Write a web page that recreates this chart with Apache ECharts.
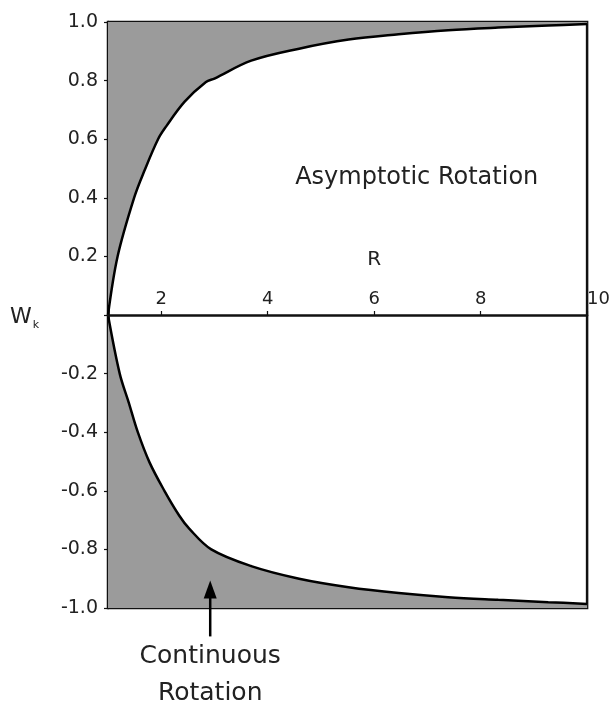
<!DOCTYPE html>
<html>
<head>
<meta charset="utf-8">
<script src="https://cdn.jsdelivr.net/npm/echarts@6/dist/echarts.min.js"></script>
<style>
  html, body { margin: 0; padding: 0; background: #fff; }
  #chart { width: 613px; height: 703px; }
</style>
</head>
<body>
<div id="chart"></div>
<script>
// Rotation parameter W_k against R: upper and lower limiting curves
const rUpper = [1, 1.18, 1.49, 1.69, 1.94, 2.09, 2.44, 2.84, 3.0, 3.69, 4.59, 5.52, 6.46, 7.39, 8.33, 9.27, 10];
const wUpper = [0, 0.2, 0.4, 0.495, 0.6, 0.643, 0.728, 0.795, 0.807, 0.868, 0.909, 0.94, 0.958, 0.972, 0.981, 0.988, 0.993];

const rLower = [1, 1.22, 1.39, 1.56, 1.78, 2.06, 2.34, 2.53, 2.94, 3.69, 4.59, 5.52, 6.46, 7.39, 8.33, 9.27, 10];
const wLower = [0, -0.2, -0.299, -0.4, -0.503, -0.6, -0.685, -0.73, -0.8, -0.857, -0.9, -0.929, -0.949, -0.963, -0.972, -0.98, -0.986];

const xTicks = [2, 4, 6, 8, 10];

const FONT = 'DejaVu Sans';
const GREY = '#9b9b9b';

const chart = echarts.init(document.getElementById('chart'), null, { renderer: 'canvas' });

const zip = (xs, ys) => xs.map((x, i) => [x, ys[i]]);

chart.setOption({
  animation: false,
  backgroundColor: '#fff',
  grid: {
    left: 108, right: 24, top: 22, bottom: 95,
    show: true, borderColor: '#111', borderWidth: 2.5, backgroundColor: 'transparent'
  },
  xAxis: {
    type: 'value', min: 1, max: 10,
    axisLine: { onZero: false, lineStyle: { color: '#111', width: 2.5 } },
    axisTick: { show: true, inside: true, length: 4, customValues: xTicks, lineStyle: { color: '#111', width: 1.2 } },
    axisLabel: {
      inside: true, margin: 7, customValues: xTicks, alignMaxLabel: 'left',
      fontFamily: FONT, fontSize: 18, color: '#222'
    },
    splitLine: { show: false },
    z: 5
  },
  yAxis: {
    type: 'value', min: -1, max: 1, interval: 0.2,
    axisLine: { show: true, onZero: false, lineStyle: { color: '#111', width: 2.5 } },
    axisTick: { show: true, length: 4, lineStyle: { color: '#111', width: 1.2 } },
    axisLabel: {
      margin: 10, fontFamily: FONT, fontSize: 19, color: '#222',
      formatter: v => (Math.abs(v) < 1e-9 ? '' : v.toFixed(1))
    },
    splitLine: { show: false }
  },
  series: [
    {
      name: 'upper', type: 'line', data: zip(rUpper, wUpper),
      smooth: 0.35, symbol: 'none',
      lineStyle: { color: '#000', width: 2.5 },
      areaStyle: { color: GREY, opacity: 1, origin: 'end' },
      z: 3
    },
    {
      name: 'lower', type: 'line', data: zip(rLower, wLower),
      smooth: 0.35, symbol: 'none',
      lineStyle: { color: '#000', width: 2.5 },
      areaStyle: { color: GREY, opacity: 1, origin: 'start' },
      z: 3
    }
  ]
});

// Annotations placed in data coordinates
const px = (r, w) => chart.convertToPixel({ gridIndex: 0 }, [r, w]);
const pR = px(6.0, 0.189);
const pAsym = px(6.8, 0.47);
const pCont = px(2.92, -1.228);
const pTip = px(2.92, -0.906);
const pTail = px(2.92, -1.097);
const pZero = px(1, 0);
const pBottom = px(1, -1);

chart.setOption({
  // lift the R axis (line, ticks, labels) up to W = 0
  xAxis: { offset: -(pBottom[1] - pZero[1]) },
  graphic: [
    {
      type: 'text', x: pR[0], y: pR[1], z: 10,
      style: { text: 'R', fontFamily: FONT, fontSize: 20, fill: '#222', align: 'center', verticalAlign: 'middle' }
    },
    {
      type: 'text', x: pAsym[0], y: pAsym[1], z: 10,
      style: { text: 'Asymptotic Rotation', fontFamily: FONT, fontSize: 24, fill: '#222', align: 'center', verticalAlign: 'middle' }
    },
    {
      type: 'text', x: pCont[0], y: pCont[1], z: 10,
      style: { text: 'Continuous\nRotation', fontFamily: FONT, fontSize: 25, lineHeight: 37, fill: '#222', align: 'center', verticalAlign: 'middle' }
    },
    {
      type: 'text', x: 10, y: pZero[1] + 2, z: 10,
      style: {
        text: 'W{k|k}', fontFamily: FONT, fontSize: 22, fill: '#222', verticalAlign: 'middle',
        rich: { k: { fontFamily: FONT, fontSize: 11, fill: '#222', padding: [16, 0, 0, 1] } }
      }
    },
    {
      type: 'line', z: 10,
      shape: { x1: pTail[0], y1: pTail[1], x2: pTip[0], y2: pTip[1] + 14 },
      style: { stroke: '#000', lineWidth: 2.5 }
    },
    {
      type: 'polygon', z: 10,
      shape: { points: [[pTip[0], pTip[1]], [pTip[0] - 6.5, pTip[1] + 18], [pTip[0] + 6.5, pTip[1] + 18]] },
      style: { fill: '#000' }
    }
  ]
});
</script>
</body>
</html>
